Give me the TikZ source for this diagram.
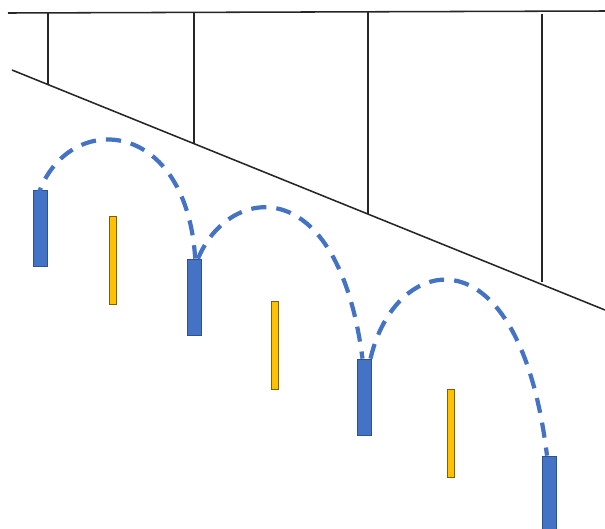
\documentclass[tikz,border=0pt]{standalone}
\usepackage{xcolor}
\usepackage{tikz}
\usetikzlibrary{shapes,arrows}
\definecolor{barblue}{HTML}{4472C4}
\definecolor{bardark}{HTML}{2F528F}
\definecolor{baryellow}{HTML}{FFC000}
\definecolor{yellowdark}{HTML}{7F6000}
\tikzstyle{bluebar} = [rectangle, draw=bardark, fill=barblue, line width=0.5pt, inner sep=0pt, minimum width=0.35cm, minimum height=1.9cm]
\tikzstyle{yellowbar} = [rectangle, draw=yellowdark, fill=baryellow, line width=0.5pt, inner sep=0pt, minimum width=0.175cm, minimum height=2.2cm]
\tikzstyle{rail} = [draw, black!85, line width=1.1pt]
\tikzstyle{hop} = [draw, barblue, line width=3pt, dash pattern=on 0.38cm off 0.25cm]

\begin{document}
\begin{tikzpicture}[x=0.025cm, y=-0.025cm]
\useasboundingbox (0,0) rectangle (605,528);

% frame above
\coordinate (topl) at (8,13);
\coordinate (topr) at (605,11);
\coordinate (slopel) at (12,70);
\coordinate (sloper) at (605,310);
\path [rail] (topl) -- (topr);
\path [rail] (slopel) -- (sloper);
\path [rail] (48,13) -- (48,85);
\path [rail] (194,12) -- (194,144);
\path [rail] (368,12) -- (368,214);
\path [rail] (542,14) -- (542,282);

% bars
\node [yellowbar] (y1) at (112.5,260) {};
\node [yellowbar] (y2) at (274.5,345) {};
\node [yellowbar] (y3) at (450.5,433) {};

\node [bluebar] (b1) at (40,228.5) {};
\node [bluebar] (b2) at (194,297) {};
\node [bluebar] (b3) at (364.5,397) {};
\node [bluebar] (b4) at (549,494) {};

% hops
\path [hop] ([xshift=-0.1cm,yshift=-0.3cm]b1.north) .. controls (60,110) and (186,112) .. ([xshift=0.03cm]b2.north);
\path [hop] ([xshift=0.1cm]b2.north) .. controls (229,184) and (338,170) .. ([xshift=-0.05cm]b3.north);
\path [hop] ([xshift=0.15cm]b3.north) .. controls (395,252) and (519,226) .. ([xshift=-0.05cm]b4.north);

\end{tikzpicture}
\end{document}
